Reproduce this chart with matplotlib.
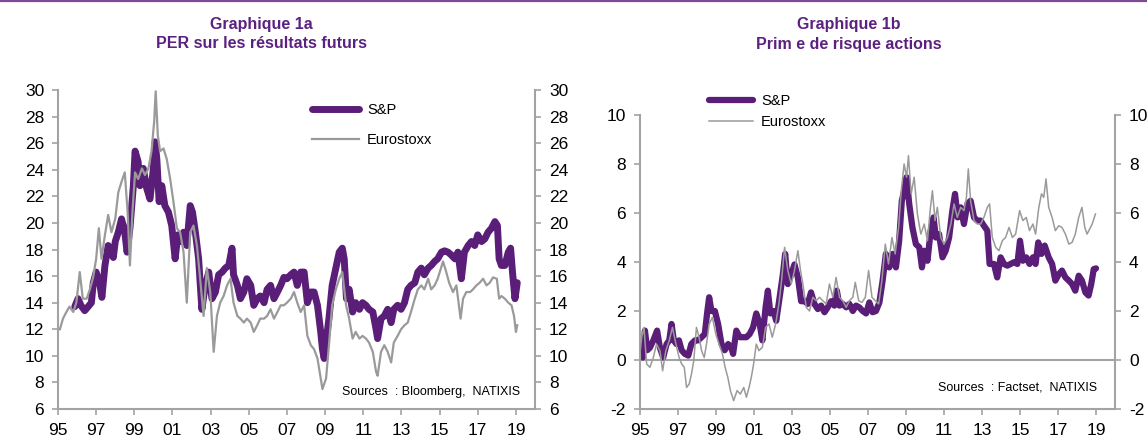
import matplotlib.pyplot as plt
from matplotlib.lines import Line2D

plt.rcParams['font.family'] = ['Liberation Sans', 'DejaVu Sans']
plt.rcParams['axes.unicode_minus'] = False

# --- Graphique 1a : PER sur les résultats futurs ---
per_sp_t = [1995.88, 1996.05, 1996.2, 1996.4, 1996.58, 1996.75, 1996.85, 1997.0, 1997.2, 1997.3,
            1997.46, 1997.63, 1997.8, 1997.9, 1998.0, 1998.16, 1998.33, 1998.5, 1998.62, 1998.77,
            1998.95, 1999.04, 1999.2, 1999.3, 1999.47, 1999.65, 1999.82, 2000.0, 2000.09, 2000.18,
            2000.3, 2000.44, 2000.6, 2000.79, 2000.96, 2001.14, 2001.28, 2001.4, 2001.58, 2001.75,
            2001.93, 2002.05, 2002.2, 2002.37, 2002.54, 2002.72, 2002.9, 2003.07, 2003.25, 2003.42,
            2003.6, 2003.77, 2003.95, 2004.12, 2004.2, 2004.4, 2004.56, 2004.74, 2004.9, 2005.1,
            2005.26, 2005.44, 2005.6, 2005.8, 2005.96, 2006.14, 2006.32, 2006.5, 2006.67, 2006.84,
            2007.0, 2007.2, 2007.37, 2007.54, 2007.72, 2007.9, 2008.07, 2008.25, 2008.42, 2008.6,
            2008.77, 2008.86, 2008.95, 2009.07, 2009.2, 2009.37, 2009.56, 2009.74, 2009.9, 2010.0,
            2010.12, 2010.26, 2010.44, 2010.6, 2010.8, 2010.96, 2011.14, 2011.3, 2011.5, 2011.67,
            2011.75, 2011.93, 2012.1, 2012.28, 2012.46, 2012.6, 2012.8, 2012.98, 2013.16, 2013.33,
            2013.5, 2013.7, 2013.86, 2014.04, 2014.2, 2014.4, 2014.56, 2014.74, 2014.9, 2015.1,
            2015.26, 2015.44, 2015.6, 2015.8, 2015.96, 2016.14, 2016.3, 2016.5, 2016.67, 2016.84,
            2017.0, 2017.2, 2017.37, 2017.54, 2017.72, 2017.9, 2018.03, 2018.12, 2018.24, 2018.42,
            2018.6, 2018.72, 2018.82, 2018.95, 2019.07]
per_sp_v = [13.7, 14.3, 13.8, 13.4, 13.7, 14.0, 15.5, 16.3, 15.3, 14.4,
            16.8, 18.3, 17.8, 17.4, 18.6, 19.3, 20.3, 19.3, 17.8, 19.6,
            22.8, 25.4, 24.6, 22.8, 24.1, 22.6, 21.8, 24.1, 26.1, 24.8,
            21.6, 22.8, 21.3, 20.8, 19.8, 17.3, 19.1, 18.6, 19.3, 18.3,
            21.3, 20.8, 19.3, 17.3, 13.5, 15.3, 16.3, 14.3, 14.8, 16.1,
            16.3, 16.6, 16.8, 18.1, 16.1, 15.3, 14.3, 14.8, 15.8, 15.3,
            13.8, 14.3, 14.5, 14.0, 15.0, 15.3, 14.3, 14.8, 15.3, 15.9,
            15.8, 16.1, 16.3, 15.3, 16.3, 16.3, 14.0, 14.8, 14.8, 13.8,
            11.8, 10.5, 9.8, 11.3, 12.8, 15.3, 16.6, 17.8, 18.1, 17.3,
            14.3, 15.0, 13.3, 14.0, 13.5, 14.0, 13.8, 13.5, 13.3, 12.0,
            11.3, 12.8, 13.0, 13.5, 12.5, 13.5, 13.8, 13.5, 14.0, 15.0,
            15.3, 15.5, 16.3, 16.6, 16.1, 16.6, 16.8, 17.1, 17.3, 17.8,
            17.9, 17.8, 17.6, 17.3, 17.8, 15.8, 17.8, 18.3, 18.6, 18.3,
            19.1, 18.6, 18.8, 19.3, 19.6, 20.1, 19.8, 17.3, 16.8, 16.8,
            17.8, 18.1, 16.3, 14.3, 15.5]

per_es_t = [1995.1, 1995.26, 1995.44, 1995.6, 1995.8, 1995.96, 1996.14, 1996.3, 1996.5, 1996.67,
            1996.84, 1997.0, 1997.14, 1997.28, 1997.46, 1997.63, 1997.8, 1998.0, 1998.16, 1998.33,
            1998.5, 1998.65, 1998.77, 1998.9, 1999.04, 1999.2, 1999.4, 1999.56, 1999.74, 1999.9,
            2000.04, 2000.12, 2000.23, 2000.35, 2000.53, 2000.7, 2000.88, 2001.05, 2001.23, 2001.4,
            2001.58, 2001.75, 2001.93, 2002.1, 2002.28, 2002.45, 2002.63, 2002.8, 2002.98, 2003.16,
            2003.33, 2003.5, 2003.68, 2003.86, 2004.04, 2004.2, 2004.4, 2004.56, 2004.74, 2004.9,
            2005.1, 2005.26, 2005.44, 2005.6, 2005.8, 2005.96, 2006.14, 2006.32, 2006.5, 2006.67,
            2006.84, 2007.0, 2007.2, 2007.37, 2007.54, 2007.72, 2007.9, 2008.07, 2008.25, 2008.42,
            2008.6, 2008.77, 2008.86, 2009.05, 2009.2, 2009.37, 2009.56, 2009.74, 2009.9, 2010.1,
            2010.26, 2010.44, 2010.6, 2010.8, 2010.96, 2011.14, 2011.3, 2011.5, 2011.67, 2011.75,
            2011.93, 2012.1, 2012.28, 2012.46, 2012.6, 2012.8, 2012.98, 2013.16, 2013.33, 2013.5,
            2013.7, 2013.86, 2014.04, 2014.2, 2014.4, 2014.56, 2014.74, 2014.9, 2015.18, 2015.35,
            2015.5, 2015.7, 2015.88, 2016.1, 2016.23, 2016.4, 2016.6, 2016.75, 2016.93, 2017.1,
            2017.28, 2017.46, 2017.63, 2017.8, 2018.0, 2018.12, 2018.24, 2018.42, 2018.6, 2018.77,
            2018.9, 2019.0, 2019.07]
per_es_v = [12.0, 12.8, 13.3, 13.7, 13.3, 14.0, 16.3, 14.3, 14.3, 15.0,
            15.9, 17.3, 19.6, 17.3, 19.1, 20.6, 19.3, 20.3, 22.3, 23.1,
            23.8, 20.8, 16.8, 20.8, 23.8, 23.3, 24.1, 23.6, 24.1, 25.4,
            27.6, 29.9, 26.6, 25.4, 25.6, 24.8, 23.3, 21.6, 19.6, 19.3,
            17.8, 14.0, 19.3, 19.8, 18.3, 15.8, 13.0, 16.6, 14.8, 10.3,
            13.0, 14.0, 14.5, 15.3, 15.8, 14.0, 13.0, 12.8, 12.5, 12.8,
            12.5, 11.8, 12.3, 12.8, 12.8, 13.0, 13.5, 12.8, 13.3, 13.8,
            13.8, 14.0, 14.3, 14.8, 14.0, 13.3, 13.8, 11.5, 10.8, 10.5,
            9.8, 8.3, 7.5, 8.3, 10.8, 13.8, 15.0, 15.8, 16.3, 13.8,
            12.8, 11.3, 11.8, 11.3, 11.5, 11.3, 11.0, 10.3, 8.8, 8.5,
            10.3, 10.8, 10.3, 9.5, 11.0, 11.5, 12.0, 12.3, 12.5, 13.3,
            14.3, 15.0, 15.3, 15.0, 15.8, 15.0, 15.3, 15.8, 17.1, 16.3,
            15.5, 14.8, 15.3, 12.8, 14.3, 14.8, 14.8, 15.0, 15.3, 15.5,
            15.8, 15.3, 15.5, 15.9, 15.8, 14.3, 14.5, 14.3, 14.0, 13.8,
            13.0, 11.8, 12.3]

# --- Graphique 1b : Prime de risque actions ---
erp_sp_t = [1995.0, 1995.14, 1995.26, 1995.38, 1995.52, 1995.7, 1995.9, 1996.05, 1996.22, 1996.4,
            1996.54, 1996.66, 1996.78, 1996.92, 1997.05, 1997.19, 1997.36, 1997.54, 1997.7, 1997.89,
            1998.06, 1998.24, 1998.41, 1998.53, 1998.64, 1998.76, 1998.94, 1999.11, 1999.29, 1999.46,
            1999.64, 1999.81, 1999.9, 2000.07, 2000.25, 2000.42, 2000.6, 2000.77, 2000.95, 2001.12,
            2001.3, 2001.44, 2001.61, 2001.73, 2001.86, 2002.03, 2002.17, 2002.35, 2002.52, 2002.64,
            2002.78, 2002.96, 2003.13, 2003.31, 2003.48, 2003.66, 2003.83, 2004.0, 2004.18, 2004.36,
            2004.53, 2004.71, 2004.88, 2005.06, 2005.23, 2005.36, 2005.5, 2005.67, 2005.85, 2006.02,
            2006.2, 2006.37, 2006.54, 2006.72, 2006.9, 2007.07, 2007.24, 2007.42, 2007.6, 2007.77,
            2007.94, 2008.12, 2008.3, 2008.47, 2008.64, 2008.78, 2008.9, 2009.03, 2009.17, 2009.34,
            2009.52, 2009.7, 2009.84, 2009.96, 2010.13, 2010.3, 2010.45, 2010.57, 2010.74, 2010.92,
            2011.09, 2011.27, 2011.44, 2011.58, 2011.72, 2011.88, 2012.05, 2012.23, 2012.4, 2012.58,
            2012.75, 2012.93, 2013.1, 2013.28, 2013.4, 2013.63, 2013.8, 2013.98, 2014.16, 2014.33,
            2014.51, 2014.68, 2014.86, 2015.0, 2015.15, 2015.33, 2015.5, 2015.68, 2015.82, 2015.96,
            2016.13, 2016.3, 2016.51, 2016.69, 2016.86, 2017.04, 2017.21, 2017.39, 2017.57, 2017.74,
            2017.91, 2018.09, 2018.26, 2018.44, 2018.61, 2018.75, 2018.88, 2019.0]
erp_sp_v = [0.3, 0.1, 1.2, 0.4, 0.5, 0.8, 1.2, 0.5, 0.1, 0.65,
            0.8, 1.47, 0.8, 0.65, 0.8, 0.4, 0.25, 0.18, 0.65, 0.8,
            0.8, 0.93, 1.06, 1.9, 2.56, 2.0, 2.0, 1.47, 0.65, 0.4,
            0.65, 0.5, 0.25, 1.2, 0.93, 0.93, 0.93, 1.06, 1.33, 1.9,
            1.47, 0.8, 2.15, 2.83, 1.9, 2.0, 1.6, 2.56, 3.5, 4.33,
            3.1, 3.5, 3.9, 3.37, 2.4, 2.4, 2.29, 2.76, 2.29, 2.08,
            2.22, 1.95, 2.15, 2.4, 2.22, 2.83, 2.22, 2.29, 2.15, 2.29,
            2.0, 2.22, 2.15, 2.0, 1.9, 2.35, 1.95, 2.0, 2.35, 3.24,
            4.33, 3.78, 4.33, 3.78, 4.87, 6.5, 6.9, 7.46, 6.37, 5.4,
            4.73, 4.6, 3.78, 4.46, 4.05, 5.28, 5.82, 5.0, 5.14, 4.19,
            4.46, 5.0, 6.1, 6.78, 5.82, 6.23, 5.55, 6.37, 6.5, 5.82,
            5.69, 5.69, 5.48, 5.28, 3.92, 3.92, 3.37, 4.19, 3.92, 3.85,
            3.92, 3.99, 3.92, 4.87, 4.05, 4.19, 3.92, 4.19, 3.92, 4.8,
            4.33, 4.67, 4.19, 3.92, 3.24, 3.5, 3.65, 3.37, 3.24, 3.1,
            2.83, 3.44, 3.24, 2.76, 2.63, 3.1, 3.71, 3.74]

erp_es_t = [1995.0, 1995.09, 1995.21, 1995.35, 1995.52, 1995.7, 1995.87, 1996.05, 1996.19, 1996.36,
            1996.54, 1996.71, 1996.89, 1997.06, 1997.19, 1997.33, 1997.45, 1997.59, 1997.71, 1997.83,
            1997.97, 1998.11, 1998.24, 1998.38, 1998.5, 1998.64, 1998.81, 1998.99, 1999.16, 1999.34,
            1999.48, 1999.62, 1999.76, 1999.93, 2000.11, 2000.28, 2000.46, 2000.6, 2000.74, 2000.86,
            2000.98, 2001.12, 2001.26, 2001.44, 2001.61, 2001.79, 2001.96, 2002.14, 2002.31, 2002.45,
            2002.61, 2002.78, 2002.96, 2003.13, 2003.31, 2003.45, 2003.57, 2003.75, 2003.92, 2004.1,
            2004.27, 2004.45, 2004.62, 2004.8, 2004.97, 2005.15, 2005.32, 2005.5, 2005.67, 2005.85,
            2006.02, 2006.2, 2006.33, 2006.51, 2006.68, 2006.86, 2007.03, 2007.21, 2007.38, 2007.56,
            2007.73, 2007.91, 2008.08, 2008.26, 2008.43, 2008.61, 2008.75, 2008.9, 2009.03, 2009.13,
            2009.27, 2009.43, 2009.6, 2009.78, 2009.96, 2010.13, 2010.27, 2010.39, 2010.53, 2010.65,
            2010.83, 2011.0, 2011.18, 2011.36, 2011.53, 2011.7, 2011.88, 2012.05, 2012.18, 2012.28,
            2012.4, 2012.58, 2012.75, 2012.93, 2013.1, 2013.28, 2013.4, 2013.54, 2013.72, 2013.89,
            2014.07, 2014.24, 2014.42, 2014.6, 2014.77, 2014.98, 2015.15, 2015.33, 2015.5, 2015.68,
            2015.82, 2015.99, 2016.13, 2016.25, 2016.37, 2016.51, 2016.69, 2016.86, 2017.04, 2017.21,
            2017.39, 2017.57, 2017.74, 2017.91, 2018.09, 2018.26, 2018.41, 2018.53, 2018.66, 2018.8,
            2018.97]
erp_es_v = [0.3, 0.93, 1.33, -0.16, -0.3, 0.1, 0.65, 0.38, -0.44, 0.38,
            0.8, 1.33, 0.65, 0.1, -0.16, -0.3, -1.12, -0.98, -0.57, -0.03,
            1.33, 0.93, 0.38, 0.1, 0.65, 1.47, 1.74, 1.06, 0.65, 0.25,
            -0.3, -0.7, -1.25, -1.66, -1.25, -1.39, -1.12, -1.52, -1.12, -0.7,
            -0.16, 0.65, 0.38, 0.52, 1.33, 1.47, 0.93, 1.47, 2.29, 3.24,
            4.6, 3.65, 3.1, 3.65, 4.46, 3.65, 3.1, 2.15, 2.0, 2.56,
            2.42, 2.56, 2.42, 2.29, 3.1, 2.56, 3.37, 2.56, 2.42, 2.15,
            2.42, 2.56, 3.17, 2.42, 2.35, 2.56, 3.65, 2.56, 2.42, 2.29,
            3.24, 4.73, 3.92, 5.0, 4.33, 5.41, 6.91, 8.0, 7.46, 8.34,
            6.78, 7.46, 5.96, 5.14, 5.55, 4.87, 6.1, 6.91, 5.69, 6.23,
            5.0, 4.73, 5.0, 5.55, 6.37, 5.82, 6.23, 6.1, 6.64, 7.8,
            6.5, 5.69, 5.55, 5.55, 5.82, 6.23, 6.37, 5.0, 4.6, 4.46,
            4.87, 5.0, 5.41, 5.0, 5.14, 6.1, 5.69, 5.82, 5.28, 5.55,
            5.14, 6.23, 6.78, 6.64, 7.39, 6.23, 5.82, 5.28, 5.48, 5.41,
            5.14, 4.73, 4.8, 5.14, 5.82, 6.23, 5.41, 5.14, 5.34, 5.55,
            5.96]

year_ticks = list(range(1995, 2020, 2))
year_labels = ['95', '97', '99', '01', '03', '05', '07', '09', '11', '13', '15', '17', '19']

PURPLE = '#5a1e78'
TITLE = '#5c2180'
GREY = '#9a9a9a'
AXIS = '#a3a3a3'

W, H = 1147, 446
fig = plt.figure(figsize=(W / 100, H / 100), dpi=100)

# thin purple rule at the very top of the page
fig.add_artist(Line2D([0, 1], [1 - 1.2 / H] * 2, transform=fig.transFigure,
                      color='#7c4a96', lw=1.6))


def style_axes(ax, ylo, yhi):
    ax.set_xlim(1995, 2020)
    ax.set_ylim(ylo, yhi)
    ax.set_xticks(year_ticks)
    ax.set_xticklabels(year_labels)
    ax.set_yticks(range(ylo, yhi + 1, 2))
    ax.tick_params(axis='y', left=True, right=True, labelleft=True, labelright=True)
    ax.tick_params(colors=AXIS, labelcolor='black', labelsize=12.5,
                   length=4, width=1.2, pad=6)
    ax.spines['top'].set_visible(False)
    for side in ['left', 'right', 'bottom']:
        ax.spines[side].set_color(AXIS)
        ax.spines[side].set_linewidth(1.5)


def px_rect(x0, y_top, x1, y_bot):
    return [x0 / W, 1 - y_bot / H, (x1 - x0) / W, (y_bot - y_top) / H]


# left panel
ax1 = fig.add_axes(px_rect(58, 90, 535, 409))
style_axes(ax1, 6, 30)
ax1.plot(per_es_t, per_es_v, color=GREY, lw=1.6, label='Eurostoxx', zorder=3)
ax1.plot(per_sp_t, per_sp_v, color=PURPLE, lw=5.0, label='S&P', zorder=2,
         solid_joinstyle='round', solid_capstyle='round')
h, l = ax1.get_legend_handles_labels()
ax1.legend(h[::-1], l[::-1], loc='upper left', bbox_to_anchor=(305 / W, 1 - 96 / H),
           bbox_transform=fig.transFigure, frameon=False, borderpad=0,
           handlelength=3.2, handletextpad=0.55, labelspacing=1.05, fontsize=10.5)
ax1.text(342 / W, 1 - 392 / H, 'Sources  : Bloomberg,  NATIXIS', transform=fig.transFigure,
         fontsize=9, va='center', ha='left')

# right panel
ax2 = fig.add_axes(px_rect(640, 115, 1115, 409))
style_axes(ax2, -2, 10)
ax2.axhline(0, color=AXIS, lw=1.5, zorder=1)
ax2.plot(erp_es_t, erp_es_v, color=GREY, lw=1.1, label='Eurostoxx', zorder=3)
ax2.plot(erp_sp_t, erp_sp_v, color=PURPLE, lw=4.5, label='S&P', zorder=2,
         solid_joinstyle='round', solid_capstyle='round')
h, l = ax2.get_legend_handles_labels()
ax2.legend(h[::-1], l[::-1], loc='upper left', bbox_to_anchor=(702 / W, 1 - 87 / H),
           bbox_transform=fig.transFigure, frameon=False, borderpad=0,
           handlelength=3.0, handletextpad=0.55, labelspacing=0.45, fontsize=10.5)
ax2.text(938 / W, 1 - 387 / H, 'Sources  : Factset,  NATIXIS', transform=fig.transFigure,
         fontsize=9, va='center', ha='left')

# titles
for cx, l1, l2 in [(261, 'Graphique 1a', 'PER sur les résultats futurs'),
                   (849, 'Graphique 1b', 'Prim e de risque actions')]:
    fig.text(cx / W, 1 - 25 / H, l1, ha='center', va='center', fontsize=11.5,
             fontweight='bold', color=TITLE)
    fig.text(cx / W, 1 - 44 / H, l2, ha='center', va='center', fontsize=11.5,
             fontweight='bold', color=TITLE)

fig.savefig('out.png', dpi=100)
